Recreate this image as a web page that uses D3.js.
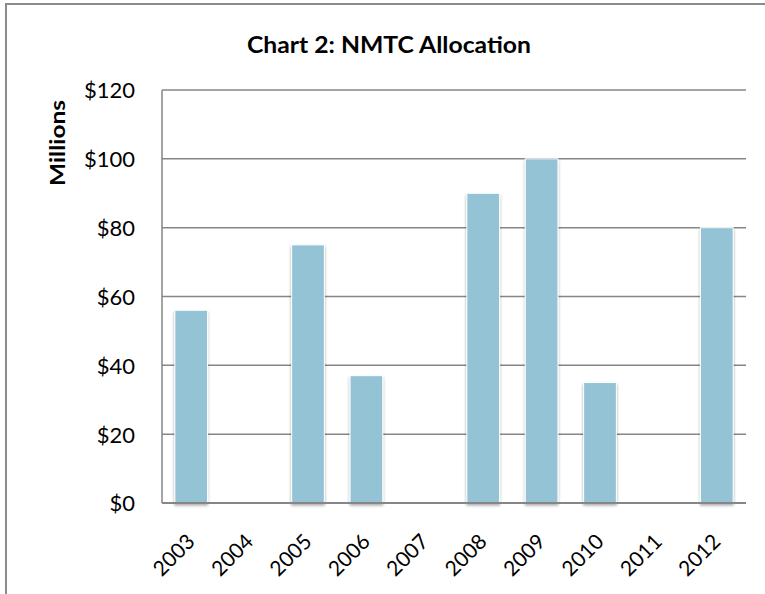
<!DOCTYPE html>
<html>
<head>
<meta charset="utf-8">
<script src="https://cdn.jsdelivr.net/npm/d3@7"></script>
<style>
  body { margin: 0; background: #fff; }
  text { font-family: Lato, "Open Sans", sans-serif; fill: #000; }
</style>
</head>
<body>
<div id="chart"></div>
<script>
// data
var years = ["2003", "2004", "2005", "2006", "2007", "2008", "2009", "2010", "2011", "2012"];
var allocation = [56, 0, 75, 37, 0, 90, 100, 35, 0, 80];
var yTicks = [0, 20, 40, 60, 80, 100, 120];

var W = 765, H = 594;
var margin = {top: 90, right: 19, bottom: 91, left: 162},
    width = W - margin.left - margin.right,
    height = H - margin.top - margin.bottom;

var svg = d3.select("#chart").append("svg")
    .attr("width", W)
    .attr("height", H);

// outer frame (only top and left are visible in the picture)
svg.append("path")
    .attr("d", "M6," + H + "V4H" + W)
    .attr("fill", "none")
    .attr("stroke", "#8c8c8c")
    .attr("stroke-width", 2);

var defs = svg.append("defs");
var f = defs.append("filter").attr("id", "shadow")
    .attr("x", "-30%").attr("y", "-10%").attr("width", "160%").attr("height", "120%");
f.append("feGaussianBlur").attr("in", "SourceAlpha").attr("stdDeviation", 1.8).attr("result", "b");
f.append("feOffset").attr("in", "b").attr("dx", 0).attr("dy", 1.5).attr("result", "o");
f.append("feComponentTransfer").attr("in", "o").attr("result", "s")
  .append("feFuncA").attr("type", "linear").attr("slope", 0.35);
var m = f.append("feMerge");
m.append("feMergeNode").attr("in", "s");
m.append("feMergeNode").attr("in", "SourceGraphic");

var g = svg.append("g")
    .attr("transform", "translate(" + margin.left + "," + margin.top + ")");

var x = d3.scaleBand()
    .domain(years)
    .range([0, width])
    .paddingInner(0.44)
    .paddingOuter(0.22);

var y = d3.scaleLinear()
    .domain([0, 120])
    .range([height, 0]);

// gridlines
g.append("g")
  .selectAll("line")
  .data(yTicks.filter(function(d) { return d > 0; }))
  .enter().append("line")
    .attr("x1", 0).attr("x2", width)
    .attr("y1", function(d) { return y(d); })
    .attr("y2", function(d) { return y(d); })
    .attr("stroke", "#868686")
    .attr("stroke-width", 1.5);

// y axis line
g.append("line")
    .attr("x1", 0).attr("x2", 0)
    .attr("y1", 0).attr("y2", height)
    .attr("stroke", "#868686")
    .attr("stroke-width", 1.5);

// bars
g.append("g")
  .selectAll("rect")
  .data(years.map(function(d, i) { return {year: d, v: allocation[i]}; }).filter(function(d) { return d.v > 0; }))
  .enter().append("rect")
    .attr("x", function(d) { return x(d.year); })
    .attr("y", function(d) { return y(d.v); })
    .attr("width", x.bandwidth())
    .attr("height", function(d) { return height - y(d.v); })
    .attr("fill", "#93c3d5")
    .attr("stroke", "#fff")
    .attr("stroke-width", 1)
    .attr("filter", "url(#shadow)");

// x axis baseline
g.append("line")
    .attr("x1", 0).attr("x2", width)
    .attr("y1", height).attr("y2", height)
    .attr("stroke", "#868686")
    .attr("stroke-width", 2);

// y tick labels
var yAxis = g.append("g")
    .call(d3.axisLeft(y).tickValues(yTicks).tickSize(0).tickPadding(27)
      .tickFormat(function(d) { return "$" + d; }));
yAxis.select(".domain").remove();
yAxis.selectAll("text")
    .style("font-size", "22px")
    .style("font-family", "Lato, sans-serif")
    .attr("dy", "0.36em");

// x tick labels
var xAxis = g.append("g")
    .attr("transform", "translate(0," + height + ")")
    .call(d3.axisBottom(x).tickSize(0).tickPadding(0));
xAxis.select(".domain").remove();
xAxis.selectAll("text")
    .style("font-size", "21px")
    .style("font-family", "Lato, sans-serif")
    .attr("text-anchor", "end")
    .attr("y", 0)
    .attr("dy", 0)
    .attr("transform", "translate(5,40) rotate(-45)");

// title
svg.append("text")
    .attr("x", 389)
    .attr("y", 53)
    .attr("text-anchor", "middle")
    .attr("textLength", 284)
    .attr("lengthAdjust", "spacingAndGlyphs")
    .style("font-size", "22px")
    .style("font-weight", "bold")
    .text("Chart 2: NMTC Allocation");

// y axis title
svg.append("text")
    .attr("transform", "translate(65,143) rotate(-90)")
    .attr("text-anchor", "middle")
    .attr("textLength", 86)
    .attr("lengthAdjust", "spacingAndGlyphs")
    .style("font-size", "21px")
    .style("font-weight", "bold")
    .text("Millions");
</script>
</body>
</html>
